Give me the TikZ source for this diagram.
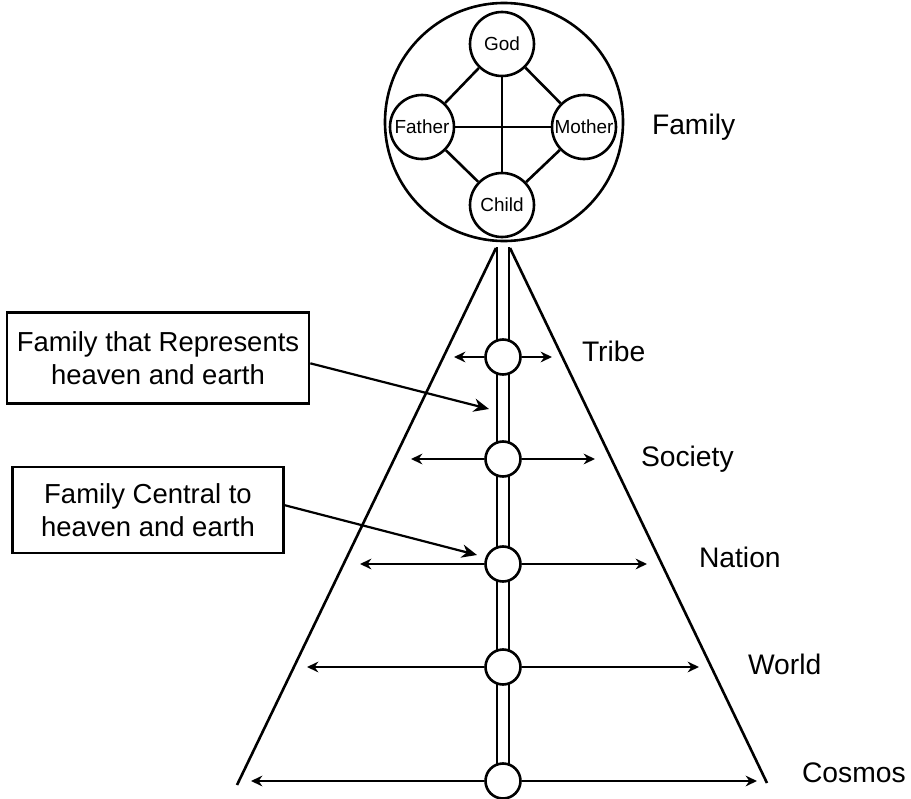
\documentclass[tikz,border=0pt]{standalone}
\usepackage{fontspec}
\setmainfont{Liberation Sans}
\usetikzlibrary{arrows.meta}

\newlength{\du}
\setlength{\du}{0.75pt}

\tikzset{
  member/.style={circle, draw=dialinecolor, fill=white, minimum size=64\du, inner sep=0pt, font=\fontsize{14.2}{14}\selectfont},
  stage/.style={circle, draw=dialinecolor, fill=white, minimum size=35\du, inner sep=0pt},
  stagelabel/.style={anchor=base west, inner sep=0pt, outer sep=0pt, font=\fontsize{21.2}{21}\selectfont},
  notebox/.style={draw=dialinecolor, align=center, inner sep=0pt, font=\fontsize{20.6}{24.75}\selectfont},
  spread/.style={line width=2\du, -{Stealth[length=8.5pt,width=8pt]}},
  pointer/.style={line width=2.2\du, -{Stealth[length=11.5pt,width=10pt]}},
}

\begin{document}
\begin{tikzpicture}[line width=2.6\du]
\pgftransformxscale{1.000000}
\pgftransformyscale{-1.000000}
\definecolor{dialinecolor}{rgb}{0.000000, 0.000000, 0.000000}
\definecolor{diafillcolor}{rgb}{1.000000, 1.000000, 1.000000}
\useasboundingbox (0\du,0\du) rectangle (911\du,799\du);
% pyramid sides
\coordinate (apexL) at (496\du,248\du);
\coordinate (apexR) at (510\du,248\du);
\coordinate (baseL) at (237\du,785\du);
\coordinate (baseR) at (767\du,783\du);
\draw[dialinecolor] (apexL) -- (baseL);
\draw[dialinecolor] (apexR) -- (baseR);
% central column
\coordinate (colLtop) at (497\du,247\du);
\coordinate (colRtop) at (509\du,247\du);
\coordinate (colLbot) at (497\du,781\du);
\coordinate (colRbot) at (509\du,781\du);
\draw[dialinecolor] (colLtop) -- (colLbot);
\draw[dialinecolor] (colRtop) -- (colRbot);
% family circle
\node[circle, draw=dialinecolor, fill=diafillcolor, minimum size=238\du, inner sep=0pt] (family) at (504\du,122\du) {};
\node[member] (god) at (502\du,44\du) {God};
\node[member] (father) at (422\du,127\du) {Father};
\node[member] (mother) at (584\du,127\du) {Mother};
\node[member] (child) at (502\du,205\du) {Child};
\draw[dialinecolor] (god) -- (father);
\draw[dialinecolor] (god) -- (mother);
\draw[dialinecolor] (father) -- (child);
\draw[dialinecolor] (mother) -- (child);
\draw[dialinecolor] (god) -- (child);
\draw[dialinecolor] (father) -- (mother);
\node[stagelabel] (familylabel) at (652\du,135\du) {Family};
% stages along the column
\node[stage] (tribe) at (503\du,357\du) {};
\node[stage] (society) at (503\du,459\du) {};
\node[stage] (nation) at (503\du,564\du) {};
\node[stage] (world) at (503\du,667\du) {};
\node[stage] (cosmos) at (503\du,781\du) {};
\coordinate (tribeL) at (454\du,357\du);
\coordinate (tribeR) at (552\du,357\du);
\coordinate (societyL) at (411\du,459\du);
\coordinate (societyR) at (595\du,459\du);
\coordinate (nationL) at (360\du,564\du);
\coordinate (nationR) at (647\du,564\du);
\coordinate (worldL) at (307\du,667\du);
\coordinate (worldR) at (699\du,667\du);
\coordinate (cosmosL) at (251\du,781\du);
\coordinate (cosmosR) at (757\du,781\du);
\draw[spread] (tribe) -- (tribeL);
\draw[spread] (tribe) -- (tribeR);
\draw[spread] (society) -- (societyL);
\draw[spread] (society) -- (societyR);
\draw[spread] (nation) -- (nationL);
\draw[spread] (nation) -- (nationR);
\draw[spread] (world) -- (worldL);
\draw[spread] (world) -- (worldR);
\draw[spread] (cosmos) -- (cosmosL);
\draw[spread] (cosmos) -- (cosmosR);
\node[stagelabel] (tribelabel) at (582\du,361\du) {Tribe};
\node[stagelabel] (societylabel) at (641\du,466\du) {Society};
\node[stagelabel] (nationlabel) at (699\du,567\du) {Nation};
\node[stagelabel] (worldlabel) at (748\du,674\du) {World};
\node[stagelabel] (cosmoslabel) at (802\du,782\du) {Cosmos};
% callout boxes
\node[notebox, minimum width=302\du, minimum height=91\du] (represents) at (158\du,358\du) {Family that Represents\\heaven and earth};
\node[notebox, minimum width=271\du, minimum height=86\du] (central) at (148\du,510\du) {Family Central to\\heaven and earth};
\coordinate (representstip) at (489\du,409\du);
\coordinate (centraltip) at (477\du,555\du);
\draw[pointer] (represents.-2) -- (representstip);
\draw[pointer] (central.2.5) -- (centraltip);
\end{tikzpicture}
\end{document}
